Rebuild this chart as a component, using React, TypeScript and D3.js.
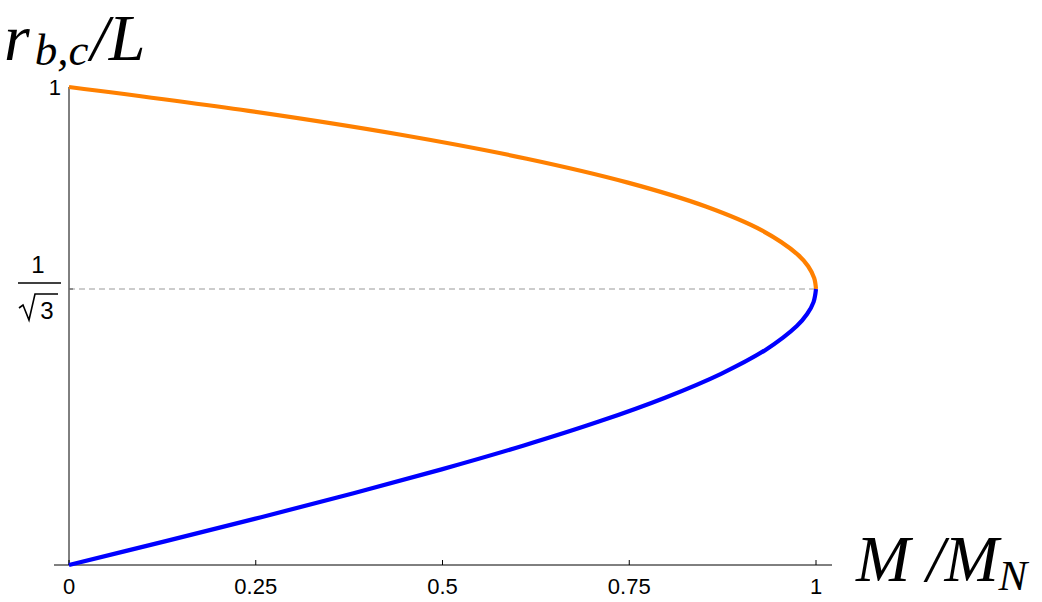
import React from "react";
import * as d3 from "d3";

// r/L values and corresponding M/M_N readings (lower branch: blue, upper branch: orange)
const lowerR = [0, 0.05, 0.1, 0.15, 0.2, 0.25, 0.3, 0.35, 0.4, 0.45, 0.5, 0.525, 0.55, 0.5774];
const lowerM = [0, 0.1296, 0.2572, 0.3809, 0.4988, 0.6089, 0.7093, 0.7979, 0.8729, 0.9324, 0.9743, 0.9881, 0.9967, 1.0];
const upperR = [0.5774, 0.6, 0.625, 0.65, 0.7, 0.75, 0.8, 0.85, 0.9, 0.95, 1.0];
const upperM = [1.0, 0.9976, 0.9895, 0.9752, 0.9275, 0.8525, 0.7482, 0.6128, 0.4443, 0.2406, 0];

const xTicks = [0, 0.25, 0.5, 0.75, 1];
const xTickLabels = ["0", "0.25", "0.5", "0.75", "1"];
const yMark = 0.5774; // 1/√3

export default function App() {
  const W = 1042, H = 602;
  const x = d3.scaleLinear().domain([0, 1]).range([69, 816]);
  const y = d3.scaleLinear().domain([0, 1]).range([565, 87]);

  const line = d3
    .line<[number, number]>()
    .x((d) => x(d[0]))
    .y((d) => y(d[1]))
    .curve(d3.curveCatmullRom.alpha(0.5));

  const lower = lowerR.map((r, i) => [lowerM[i], r] as [number, number]);
  const upper = upperR.map((r, i) => [upperM[i], r] as [number, number]);

  const tickFont = "'Liberation Sans', Arial, sans-serif";
  const mathFont = "'Liberation Serif', 'Times New Roman', serif";
  const ym = y(yMark);

  return (
    <svg width={W} height={H} style={{ position: "absolute", left: 0, top: 0 }}>
      <rect width={W} height={H} fill="white" />
      {/* axes */}
      <line x1={54} x2={832} y1={565} y2={565} stroke="black" strokeWidth={1} />
      <line x1={69} x2={69} y1={87} y2={565} stroke="black" strokeWidth={1} />
      {xTicks.map((t, i) => (
        <g key={i}>
          <line x1={x(t)} x2={x(t)} y1={565} y2={560} stroke="black" strokeWidth={1} />
          <text x={x(t)} y={594} fontFamily={tickFont} fontSize={22} textAnchor="middle">
            {xTickLabels[i]}
          </text>
        </g>
      ))}
      {/* y ticks */}
      <line x1={69} x2={73} y1={y(1)} y2={y(1)} stroke="black" />
      <text x={61} y={y(1) + 8} fontFamily={tickFont} fontSize={22} textAnchor="end">1</text>
      <line x1={69} x2={73} y1={ym} y2={ym} stroke="black" />
      <text x={38} y={ym - 16} fontFamily={tickFont} fontSize={24} textAnchor="middle">1</text>
      <line x1={18} x2={61} y1={ym - 6} y2={ym - 6} stroke="black" strokeWidth={1.6} />
      <text x={47} y={ym + 30} fontFamily={tickFont} fontSize={24} textAnchor="middle">3</text>
      <path
        d={`M19,${ym + 19} L23,${ym + 16} L29,${ym + 31} L35,${ym + 5} L58,${ym + 5}`}
        fill="none"
        stroke="black"
        strokeWidth={1.6}
      />
      {/* dashed reference */}
      <line
        x1={x(0)}
        x2={x(1)}
        y1={ym}
        y2={ym}
        stroke="#999"
        strokeWidth={1}
        strokeDasharray="6,4"
      />
      {/* curves */}
      <path d={line(upper) || ""} fill="none" stroke="#FF8000" strokeWidth={4.2} />
      <path d={line(lower) || ""} fill="none" stroke="#0000FF" strokeWidth={4.2} />
      {/* axis labels */}
      <text x={4} y={60} fontFamily={mathFont} fontStyle="italic" fontSize={66}>
        r
        <tspan fontSize={45} dx={5} dy={5}>b,c</tspan>
        <tspan fontSize={66} dx={2} dy={-5}>/L</tspan>
      </text>
      <text x={856} y={581} fontFamily={mathFont} fontStyle="italic" fontSize={65}>
        M /M
        <tspan fontSize={43} dy={9}>N</tspan>
      </text>
    </svg>
  );
}
